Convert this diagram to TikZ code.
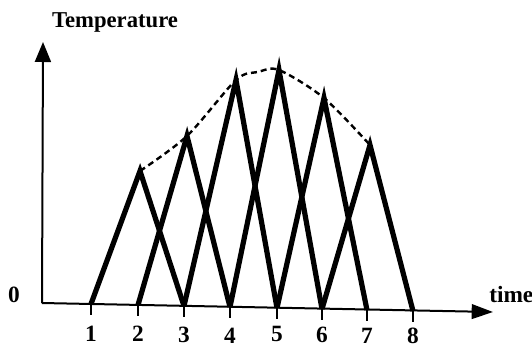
\documentclass[tikz,border=0pt]{standalone}
\usepackage{fontspec}
\setmainfont{Liberation Serif}
\usetikzlibrary{arrows.meta}
\begin{document}
\begin{tikzpicture}[x=0.75pt,y=-0.75pt,
  axis/.style={line width=1.5pt},
  tri/.style={line width=3.9pt, line join=miter},
  env/.style={line width=1.8pt, dash pattern=on 4.5pt off 3pt},
  tickmark/.style={line width=1pt},
  lbl/.style={font=\bfseries\fontsize{17.5}{20}\selectfont, inner sep=0pt},
  ttl/.style={font=\bfseries\fontsize{17}{20}\selectfont, inner sep=0pt}]
\useasboundingbox (0,0) rectangle (532,351);
% axes
\coordinate (O) at (42,303);
\coordinate (ytop) at (43,42);
\coordinate (xend) at (493,312);
\draw[axis,-{Triangle[length=15pt,width=12pt]}] (O) -- (ytop);
\draw[axis,-{Triangle[length=16pt,width=11pt]}] (O) -- (xend);
% feet
\coordinate (f1) at (91,304);
\coordinate (f2) at (138,305);
\coordinate (f3) at (184,306);
\coordinate (f4) at (230,307);
\coordinate (f5) at (277,308);
\coordinate (f6) at (322,309);
\coordinate (f7) at (367,310);
\coordinate (f8) at (413,311);
% peaks
\coordinate (p2) at (140,171);
\coordinate (p3) at (187,136);
\coordinate (p4) at (236,80);
\coordinate (p5) at (279,70);
\coordinate (p6) at (324,98);
\coordinate (p7) at (370,145);
% ticks and labels
\foreach \i/\ly in {1/334,2/334,3/335,4/336,5/334,6/335,7/336,8/336}{
  \draw[tickmark] (f\i) -- ++(0,11);
  \node[lbl] (l\i) at (f\i |- 0,\ly) {\i};
}
% triangles
\draw[tri] (f1) -- (p2) -- (f3);
\draw[tri] (f2) -- (p3) -- (f4);
\draw[tri] (f3) -- (p4) -- (f5);
\draw[tri] (f4) -- (p5) -- (f6);
\draw[tri] (f5) -- (p6) -- (f7);
\draw[tri] (f6) -- (p7) -- (f8);
% envelope
\draw[env] plot[smooth, tension=0.5] coordinates {(140,171) (187,136) (236,80) (258,72) (279,70) (324,98) (370,145)};
% texts
\node[ttl] (ttl) at (115,22) {Temperature};
\node[lbl] (zero) at (14,295) {0};
\node[lbl, anchor=west] (time) at (489,295) {time};
\end{tikzpicture}
\end{document}
